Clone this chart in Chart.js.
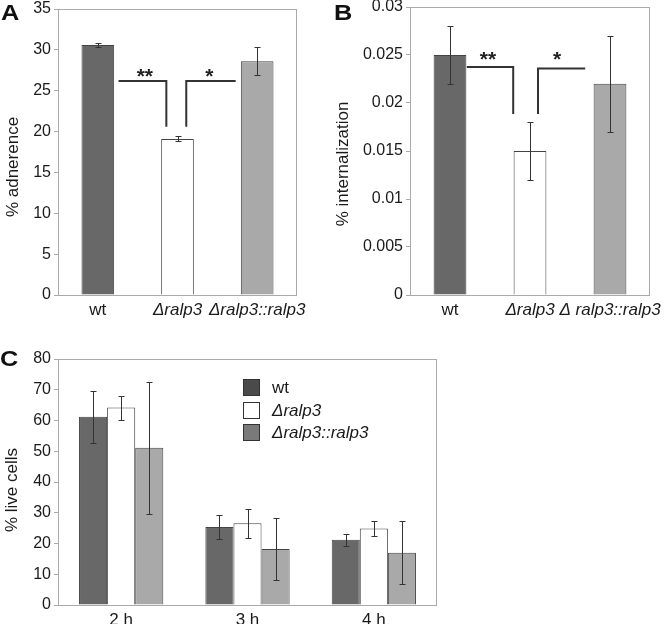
<!DOCTYPE html>
<html>
<head>
<meta charset="utf-8">
<script src="https://cdn.jsdelivr.net/npm/chart.js@4"></script>
<style>
  body { margin: 0; background: #fff; }
  #fig { position: relative; width: 666px; height: 624px; overflow: hidden; font-family: 'Liberation Sans', Arial, sans-serif; }
  canvas { position: absolute; }
  .tag { position: absolute; font-weight: bold; font-size: 22px; line-height: 1; color: #111; transform: scaleX(1.15); transform-origin: left top; }
</style>
</head>
<body>
<div id="fig">
  <canvas id="chartA" width="310" height="320" style="left:0;top:0"></canvas>
  <canvas id="chartB" width="333" height="320" style="left:333px;top:0"></canvas>
  <canvas id="chartC" width="460" height="304" style="left:0;top:320px"></canvas>
  <div class="tag" style="left:1px;top:2px">A</div>
  <div class="tag" style="left:334px;top:2px">B</div>
  <div class="tag" style="left:0;top:348px">C</div>
</div>
<script>
// panel A: adherence
const adhLabels = ['wt', 'Δralp3', 'Δralp3::ralp3'];
const adhValues = [30.6, 19.1, 28.6];
const adhErrors = [0.3, 0.3, 1.7];
const adhTicks = [0, 35, 5];              // min, max, step
const adhLines = [
  [[0.26, 26.2], [0.86, 26.2], [0.86, 20.6]],
  [[1.11, 20.6], [1.11, 26.2], [1.73, 26.2]]
];
const adhStars = [[0.59, 27.35, '**'], [1.4, 27.35, '*']];

// panel B: internalization
const intLabels = ['wt', 'Δralp3', 'Δ ralp3::ralp3'];
const intValues = [0.025, 0.015, 0.022];
const intErrors = [0.003, 0.003, 0.005];
const intTicks = [0, 0.03, 0.005];
const intLines = [
  [[0.21, 0.02375], [0.79, 0.02375], [0.79, 0.01885]],
  [[1.10, 0.01885], [1.10, 0.0236], [1.69, 0.0236]]
];
const intStars = [[0.475, 0.025, '**'], [1.34, 0.025, '*']];

// panel C: live cells over time
const timeLabels = ['2 h', '3 h', '4 h'];
const strainNames = ['wt', 'Δralp3', 'Δralp3::ralp3'];
const liveWt = [61.2, 25.4, 21.2];
const liveWtErr = [8.5, 3.9, 2.0];
const liveDel = [64.2, 26.6, 24.9];
const liveDelErr = [3.9, 4.7, 2.3];
const liveComp = [51.1, 18.2, 17.0];
const liveCompErr = [21.5, 10.2, 10.3];
const liveTicks = [0, 80, 10];

const FONT = "'Liberation Sans', Arial, sans-serif";
const fills = ['#686868', '#ffffff', '#a9a9a9'];
const legendFills = ['#4a4a4a', '#ffffff', '#7a7a7a'];
const edge = '#444';
const frame = '#aaaaaa';

Chart.defaults.font.family = FONT;
Chart.defaults.color = '#1a1a1a';
Chart.defaults.animation = false;

// light grey box round the plot area
const plotFrame = {
  id: 'plotFrame',
  beforeDatasetsDraw(chart) {
    const { ctx, chartArea: a } = chart;
    ctx.save();
    ctx.strokeStyle = frame;
    ctx.lineWidth = 1;
    ctx.strokeRect(Math.round(a.left) + 0.5, Math.round(a.top) + 0.5,
      Math.round(a.right - a.left) - 1, Math.round(a.bottom - a.top));
    ctx.restore();
  }
};

const errorBars = {
  id: 'errorBars',
  afterDatasetsDraw(chart) {
    const ctx = chart.ctx, y = chart.scales.y;
    ctx.save();
    ctx.strokeStyle = '#333';
    ctx.lineWidth = 1;
    chart.data.datasets.forEach((ds, i) => {
      if (!ds.errors) return;
      chart.getDatasetMeta(i).data.forEach((bar, j) => {
        const v = ds.data[j], e = ds.errors[j];
        const top = Math.round(y.getPixelForValue(v + e)) + 0.5;
        const bot = Math.round(y.getPixelForValue(v - e)) + 0.5;
        const x = Math.round(bar.x) + 0.5;
        ctx.beginPath();
        ctx.moveTo(x, top); ctx.lineTo(x, bot);
        ctx.moveTo(x - 3, top); ctx.lineTo(x + 3, top);
        ctx.moveTo(x - 3, bot); ctx.lineTo(x + 3, bot);
        ctx.stroke();
      });
    });
    ctx.restore();
  }
};

// significance brackets and stars
const sigMarks = {
  id: 'sigMarks',
  afterDatasetsDraw(chart, args, opts) {
    if (!opts.lines) return;
    const { ctx, scales: { x, y } } = chart;
    ctx.save();
    ctx.strokeStyle = '#333';
    ctx.lineWidth = 2;
    opts.lines.forEach(pts => {
      ctx.beginPath();
      pts.forEach(([a, b], k) => {
        const px = x.getPixelForValue(a), py = y.getPixelForValue(b);
        k ? ctx.lineTo(px, py) : ctx.moveTo(px, py);
      });
      ctx.stroke();
    });
    ctx.fillStyle = '#222';
    ctx.font = 'bold 21px ' + FONT;
    ctx.textAlign = 'center';
    ctx.textBaseline = 'alphabetic';
    opts.stars.forEach(([a, b, t]) => {
      ctx.fillText(t, x.getPixelForValue(a), y.getPixelForValue(b) + 11);
    });
    ctx.restore();
  }
};

const yTitle = {
  id: 'yTitle',
  afterDraw(chart, args, o) {
    const { ctx, chartArea: a } = chart;
    ctx.save();
    ctx.translate(o.x, (a.top + a.bottom) / 2 + o.dy);
    ctx.rotate(-Math.PI / 2);
    ctx.font = '17px ' + FONT;
    ctx.fillStyle = '#1a1a1a';
    ctx.textAlign = 'center';
    ctx.textBaseline = 'middle';
    ctx.fillText(o.text, 0, 0);
    ctx.restore();
  }
};

const boxLegend = {
  id: 'boxLegend',
  afterDraw(chart, args, o) {
    if (!o.show) return;
    const { ctx, chartArea: a } = chart;
    ctx.save();
    chart.data.datasets.forEach((ds, i) => {
      const x0 = Math.round(a.left + o.dx), y0 = Math.round(a.top + o.dy + i * o.step);
      ctx.fillStyle = legendFills[i];
      ctx.fillRect(x0, y0, 17, 17);
      ctx.strokeStyle = '#333';
      ctx.lineWidth = 1;
      ctx.strokeRect(x0 + 0.5, y0 + 0.5, 16, 16);
      ctx.fillStyle = '#1a1a1a';
      ctx.font = (i ? 'italic ' : '') + '17px ' + FONT;
      ctx.textBaseline = 'middle';
      ctx.fillText(ds.label, x0 + 29, y0 + 9);
    });
    ctx.restore();
  }
};

function scales(ticks, yWidth, xHeight, fmt, italicFrom) {
  return {
    x: {
      grid: { display: false, drawTicks: false },
      border: { display: false },
      ticks: {
        padding: 5,
        maxRotation: 0,
        autoSkip: false,
        font: c => ({ family: FONT, size: 17, style: c.index >= italicFrom ? 'italic' : 'normal' })
      },
      afterFit: s => { s.height = xHeight; s.paddingLeft = 0; s.paddingRight = 0; }
    },
    y: {
      min: ticks[0],
      max: ticks[1],
      grid: { drawOnChartArea: false, tickLength: 4, color: frame },
      border: { display: false },
      ticks: { stepSize: ticks[2], padding: 3, font: { size: 16 }, callback: fmt },
      afterFit: s => { s.width = yWidth; s.paddingTop = 0; s.paddingBottom = 0; }
    }
  };
}

new Chart(document.getElementById('chartA'), {
  type: 'bar',
  data: {
    labels: adhLabels,
    datasets: [{
      data: adhValues,
      errors: adhErrors,
      backgroundColor: fills,
      borderColor: edge,
      borderWidth: 1,
      barPercentage: 0.41,
      categoryPercentage: 1
    }]
  },
  options: {
    responsive: false,
    layout: { padding: { top: 9, right: 13, left: 0, bottom: 0 } },
    scales: scales(adhTicks, 58, 25, v => v, 1),
    plugins: {
      legend: { display: false },
      tooltip: { enabled: false },
      sigMarks: { lines: adhLines, stars: adhStars },
      yTitle: { text: '% adnerence', x: 13, dy: 15 }
    }
  },
  plugins: [plotFrame, errorBars, sigMarks, yTitle]
});

new Chart(document.getElementById('chartB'), {
  type: 'bar',
  data: {
    labels: intLabels,
    datasets: [{
      data: intValues,
      errors: intErrors,
      backgroundColor: fills,
      borderColor: edge,
      borderWidth: 1,
      barPercentage: 0.41,
      categoryPercentage: 1
    }]
  },
  options: {
    responsive: false,
    layout: { padding: { top: 7, right: 16, left: 0, bottom: 0 } },
    scales: scales(intTicks, 77, 25, v => String(+Number(v).toFixed(3)), 1),
    plugins: {
      legend: { display: false },
      tooltip: { enabled: false },
      sigMarks: { lines: intLines, stars: intStars },
      yTitle: { text: '% internalization', x: 10, dy: 13 }
    }
  },
  plugins: [plotFrame, errorBars, sigMarks, yTitle]
});

const liveSeries = [[liveWt, liveWtErr], [liveDel, liveDelErr], [liveComp, liveCompErr]];

new Chart(document.getElementById('chartC'), {
  type: 'bar',
  data: {
    labels: timeLabels,
    datasets: liveSeries.map(([vals, errs], i) => ({
      label: strainNames[i],
      data: vals,
      errors: errs,
      backgroundColor: fills[i],
      borderColor: edge,
      borderWidth: 1,
      barPercentage: 1,
      categoryPercentage: 0.667
    }))
  },
  options: {
    responsive: false,
    layout: { padding: { top: 39, right: 23, left: 0, bottom: 0 } },
    scales: scales(liveTicks, 58, 19, v => v, 99),
    plugins: {
      legend: { display: false },
      tooltip: { enabled: false },
      yTitle: { text: '% live cells', x: 12, dy: 8 },
      boxLegend: { show: true, dx: 185, dy: 20, step: 22.5 }
    }
  },
  plugins: [plotFrame, errorBars, yTitle, boxLegend]
});
</script>
</body>
</html>
